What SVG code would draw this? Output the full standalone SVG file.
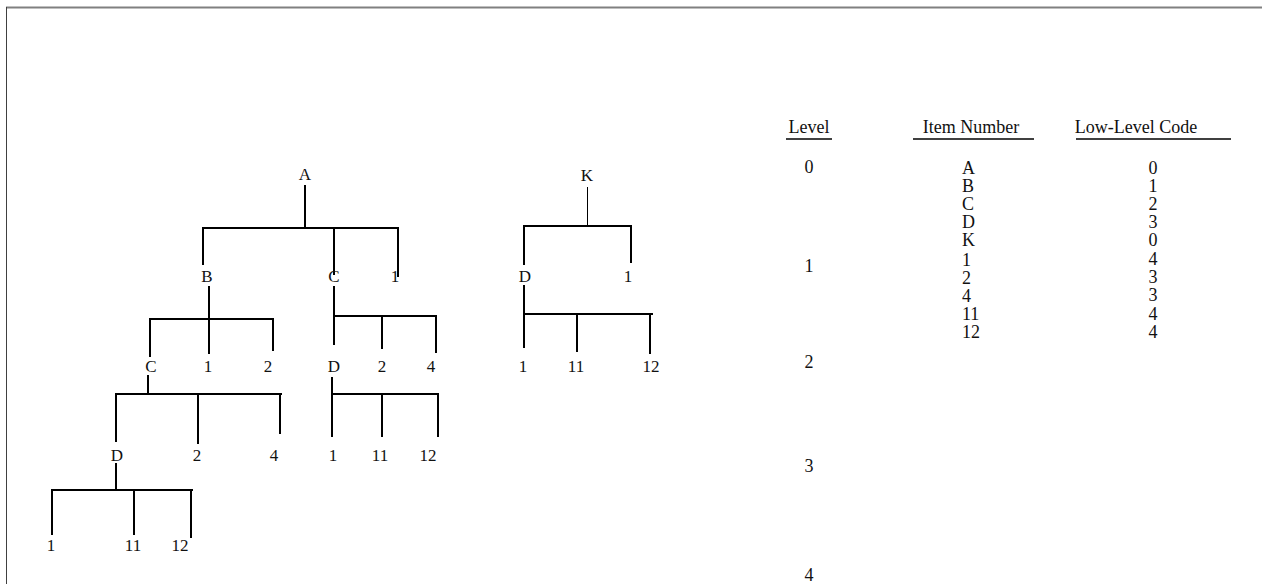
<svg xmlns="http://www.w3.org/2000/svg" width="1262" height="584" viewBox="0 0 1262 584">
<style>
text{font-family:"Liberation Serif","Times New Roman",serif;fill:#111;}
.t{font-size:17px;text-anchor:middle;}
.h{font-size:18px;text-anchor:middle;}
.v{font-size:18px;}
.c{font-size:18px;text-anchor:middle;}
#connectors line{stroke:#000;stroke-width:2;}
#connectors line.thin{stroke-width:1;}
.u{stroke:#000;stroke-width:1.6;}
</style>
<rect x="0" y="0" width="1262" height="584" fill="#fff"/>
<line x1="6" y1="7.5" x2="1262" y2="7.5" stroke="#808080" stroke-width="2"/>
<line x1="6.5" y1="7" x2="6.5" y2="584" stroke="#404040" stroke-width="1"/>
<g id="connectors">
<line x1="305" y1="185" x2="305" y2="228"/>
<line x1="202" y1="228" x2="399" y2="228"/>
<line x1="203" y1="228" x2="203" y2="265"/>
<line x1="334" y1="228" x2="334" y2="275"/>
<line x1="398" y1="228" x2="398" y2="277"/>
<line x1="209" y1="286" x2="209" y2="354"/>
<line x1="149" y1="319" x2="274" y2="319"/>
<line x1="150" y1="319" x2="150" y2="357"/>
<line x1="273" y1="319" x2="273" y2="351"/>
<line x1="334" y1="286" x2="334" y2="345"/>
<line x1="334" y1="316" x2="437" y2="316"/>
<line x1="382" y1="316" x2="382" y2="349"/>
<line x1="436" y1="316" x2="436" y2="353"/>
<line x1="148" y1="375" x2="148" y2="394"/>
<line x1="115" y1="394" x2="282" y2="394"/>
<line x1="116" y1="394" x2="116" y2="442"/>
<line x1="198" y1="394" x2="198" y2="444"/>
<line x1="280" y1="394" x2="280" y2="434"/>
<line x1="332" y1="377" x2="332" y2="437"/>
<line x1="332" y1="394" x2="439" y2="394"/>
<line x1="382" y1="394" x2="382" y2="437"/>
<line x1="438" y1="394" x2="438" y2="437"/>
<line x1="116" y1="463" x2="116" y2="490"/>
<line x1="51" y1="490" x2="193" y2="490"/>
<line x1="52" y1="490" x2="52" y2="535"/>
<line x1="134" y1="490" x2="134" y2="535"/>
<line x1="191" y1="490" x2="191" y2="538"/>
<line class="thin" x1="587.5" y1="187" x2="587.5" y2="225"/>
<line x1="523" y1="226" x2="632" y2="226"/>
<line x1="524" y1="226" x2="524" y2="265"/>
<line x1="631" y1="226" x2="631" y2="263"/>
<line x1="524" y1="285" x2="524" y2="348"/>
<line x1="524" y1="314" x2="653" y2="314"/>
<line x1="577" y1="314" x2="577" y2="352"/>
<line x1="650" y1="314" x2="650" y2="354"/>
</g>
<g id="node-A"><text class="t" x="305" y="180">A</text></g>
<g id="node-B"><text class="t" x="207" y="282">B</text></g>
<g id="node-C1"><text class="t" x="334" y="282">C</text></g>
<g id="node-1a"><text class="t" x="395" y="282">1</text></g>
<g id="node-C2"><text class="t" x="151" y="372">C</text></g>
<g id="node-1b"><text class="t" x="208" y="372">1</text></g>
<g id="node-2a"><text class="t" x="268" y="372">2</text></g>
<g id="node-D1"><text class="t" x="334" y="372">D</text></g>
<g id="node-2b"><text class="t" x="382" y="372">2</text></g>
<g id="node-4a"><text class="t" x="431" y="372">4</text></g>
<g id="node-D2"><text class="t" x="117" y="461">D</text></g>
<g id="node-2c"><text class="t" x="197" y="461">2</text></g>
<g id="node-4b"><text class="t" x="274" y="461">4</text></g>
<g id="node-1c"><text class="t" x="333" y="461">1</text></g>
<g id="node-11a"><text class="t" x="380" y="461">11</text></g>
<g id="node-12a"><text class="t" x="428" y="461">12</text></g>
<g id="node-1d"><text class="t" x="51" y="551">1</text></g>
<g id="node-11b"><text class="t" x="133" y="551">11</text></g>
<g id="node-12b"><text class="t" x="180" y="551">12</text></g>
<g id="node-K"><text class="t" x="587" y="181">K</text></g>
<g id="node-D3"><text class="t" x="525" y="282">D</text></g>
<g id="node-1e"><text class="t" x="628" y="282">1</text></g>
<g id="node-1f"><text class="t" x="523" y="372">1</text></g>
<g id="node-11c"><text class="t" x="576" y="372">11</text></g>
<g id="node-12c"><text class="t" x="651" y="372">12</text></g>
<g id="table-headers">
<text class="h" x="809" y="133">Level</text>
<line class="u" x1="786" y1="139" x2="832" y2="139"/>
<text class="h" x="971" y="133">Item Number</text>
<line class="u" x1="913" y1="139" x2="1034" y2="139"/>
<text class="h" x="1136" y="133">Low-Level Code</text>
<line class="u" x1="1076" y1="139" x2="1231" y2="139"/>
</g>
<g id="levels">
<text class="c" x="809" y="173">0</text>
<text class="c" x="809" y="272">1</text>
<text class="c" x="809" y="368">2</text>
<text class="c" x="809" y="472">3</text>
<text class="c" x="809" y="581">4</text>
</g>
<g id="items">
<text class="v" x="962" y="174">A</text>
<text class="v" x="962" y="192">B</text>
<text class="v" x="962" y="210">C</text>
<text class="v" x="962" y="228">D</text>
<text class="v" x="962" y="246">K</text>
<text class="v" x="962" y="266">1</text>
<text class="v" x="962" y="284">2</text>
<text class="v" x="962" y="302">4</text>
<text class="v" x="962" y="320">11</text>
<text class="v" x="962" y="338">12</text>
</g>
<g id="codes">
<text class="c" x="1153" y="174">0</text>
<text class="c" x="1153" y="192">1</text>
<text class="c" x="1153" y="210">2</text>
<text class="c" x="1153" y="228">3</text>
<text class="c" x="1153" y="246">0</text>
<text class="c" x="1153" y="265">4</text>
<text class="c" x="1153" y="283">3</text>
<text class="c" x="1153" y="301">3</text>
<text class="c" x="1153" y="320">4</text>
<text class="c" x="1153" y="338">4</text>
</g>
</svg>
